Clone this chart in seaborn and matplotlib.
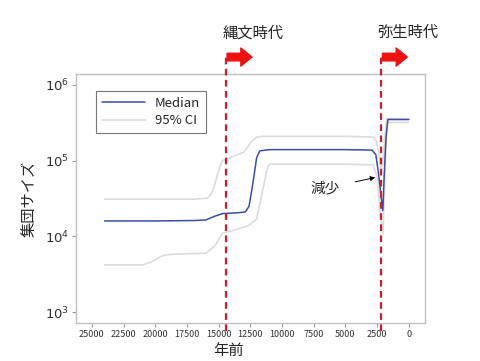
import numpy as np
import pandas as pd
import seaborn as sns
import matplotlib
matplotlib.use("Agg")
import matplotlib.pyplot as plt

# values (years before present)
med_years = [24000, 20000, 17000, 16000, 15300, 14700, 13500, 12900, 12600, 12300,
             12000, 11750, 11000, 5000, 2900, 2600, 2400, 2200, 2050, 1950, 1800, 1650, 0]
median = [1.6e4, 1.6e4, 1.62e4, 1.65e4, 1.85e4, 2.0e4, 2.05e4, 2.1e4, 2.5e4, 5.0e4,
          1.1e5, 1.35e5, 1.4e5, 1.4e5, 1.38e5, 1.2e5, 7.0e4, 3.5e4, 2.2e4, 6.0e4, 2.0e5, 3.5e5, 3.5e5]

up_years = [24000, 17000, 15900, 15600, 15300, 15000, 14700, 14100, 13000, 12400, 12000, 11500,
            5000, 2800, 2550, 2350, 2200, 2050, 1900, 1750, 0]
upper = [3.1e4, 3.1e4, 3.2e4, 3.6e4, 4.8e4, 7.5e4, 1.0e5, 1.1e5, 1.3e5, 1.8e5, 2.05e5, 2.1e5,
         2.1e5, 2.05e5, 1.8e5, 1.2e5, 8.0e4, 9.0e4, 2.0e5, 3.6e5, 3.6e5]

lo_years = [24000, 21000, 20300, 19500, 18800, 16000, 15300, 14700, 13500, 12600,
            12000, 11600, 11200, 11000, 5000, 2800, 2500, 2300, 2050, 1900, 1750, 0]
lower = [4.2e3, 4.2e3, 4.6e3, 5.5e3, 5.8e3, 6.0e3, 7.5e3, 1.1e4, 1.25e4, 1.4e4,
         1.7e4, 3.5e4, 7.5e4, 9.0e4, 9.0e4, 8.8e4, 6.0e4, 2.5e4, 1.07e4, 5.0e4, 3.2e5, 3.2e5]

jomon_start = 14450
yayoi_start = 2200
xticks = list(range(0, 25001, 2500))
yticks = [1e3, 1e4, 1e5, 1e6]

sns.set_style("white")
plt.rcParams['font.family'] = ['Noto Sans CJK JP', 'DejaVu Sans']

fig = plt.figure(figsize=(4.8, 3.61), dpi=100)
ax = fig.add_axes([0.158, 0.105, 0.727, 0.69])

ci_color = "#dcdcdc"
sns.lineplot(x=up_years, y=upper, ax=ax, color=ci_color, lw=1.2, estimator=None, label="95% CI")
sns.lineplot(x=lo_years, y=lower, ax=ax, color=ci_color, lw=1.2, estimator=None)
sns.lineplot(x=med_years, y=median, ax=ax, color="#3a4ea3", lw=1.1, estimator=None, label="Median")

ax.set_yscale("log")
ax.set_ylim(10 ** 2.855, 10 ** 6.145)
ax.set_xlim(26260, -1260)
ax.set_xticks(xticks)
ax.set_xticklabels([str(t) for t in xticks], fontsize=6.5, color="#333333")
ax.set_yticks(yticks)
ax.set_yticklabels([r"$10^{%d}$" % int(np.log10(t)) for t in yticks], fontsize=9.5, color="#333333")
ax.minorticks_off()
ax.tick_params(axis="both", length=3, width=0.8, color="#999999", direction="out", left=True, bottom=True, pad=2)
for s in ax.spines.values():
    s.set_color("#c0c0c0")
    s.set_linewidth(1.0)

ax.set_ylabel("集団サイズ", fontsize=11, labelpad=5)
ax.set_xlabel("")
fig.text(0.475, 0.028, "年前", fontsize=11, ha="center", va="center")

handles, labels = ax.get_legend_handles_labels()
leg = ax.legend(handles[::-1], labels[::-1], loc="upper left", bbox_to_anchor=(0.04, 0.96),
                fontsize=9.5, frameon=True, fancybox=False, edgecolor="#555555",
                handlelength=3.2, borderpad=0.45, labelspacing=0.35)
leg.get_frame().set_linewidth(0.8)

tr = ax.get_xaxis_transform()
for xv in [jomon_start, yayoi_start]:
    ax.plot([xv, xv], [-0.03, 1.08], transform=tr, color="#c8202a", lw=1.6,
            ls=(0, (3, 2)), clip_on=False, zorder=5)

for xv, name in [(jomon_start, "縄文時代"), (yayoi_start, "弥生時代")]:
    ax.annotate("", xy=(xv - 2300, 1.068), xytext=(xv + 100, 1.068), xycoords=tr, textcoords=tr,
                arrowprops=dict(arrowstyle="simple,head_width=1.3,head_length=0.8,tail_width=0.55",
                                color="#ee1111", mutation_scale=10), annotation_clip=False)
    ax.text(xv + 250, 1.165, name, transform=tr, fontsize=11, ha="left", va="center")

ax.annotate("減少", xy=(2650, 6.0e4), xytext=(6600, 4.3e4), fontsize=10.5, ha="center", va="center",
            arrowprops=dict(arrowstyle="-|>", color="black", lw=0.7, mutation_scale=7,
                            shrinkA=9, shrinkB=0))

fig.savefig("out.png", dpi=100)
